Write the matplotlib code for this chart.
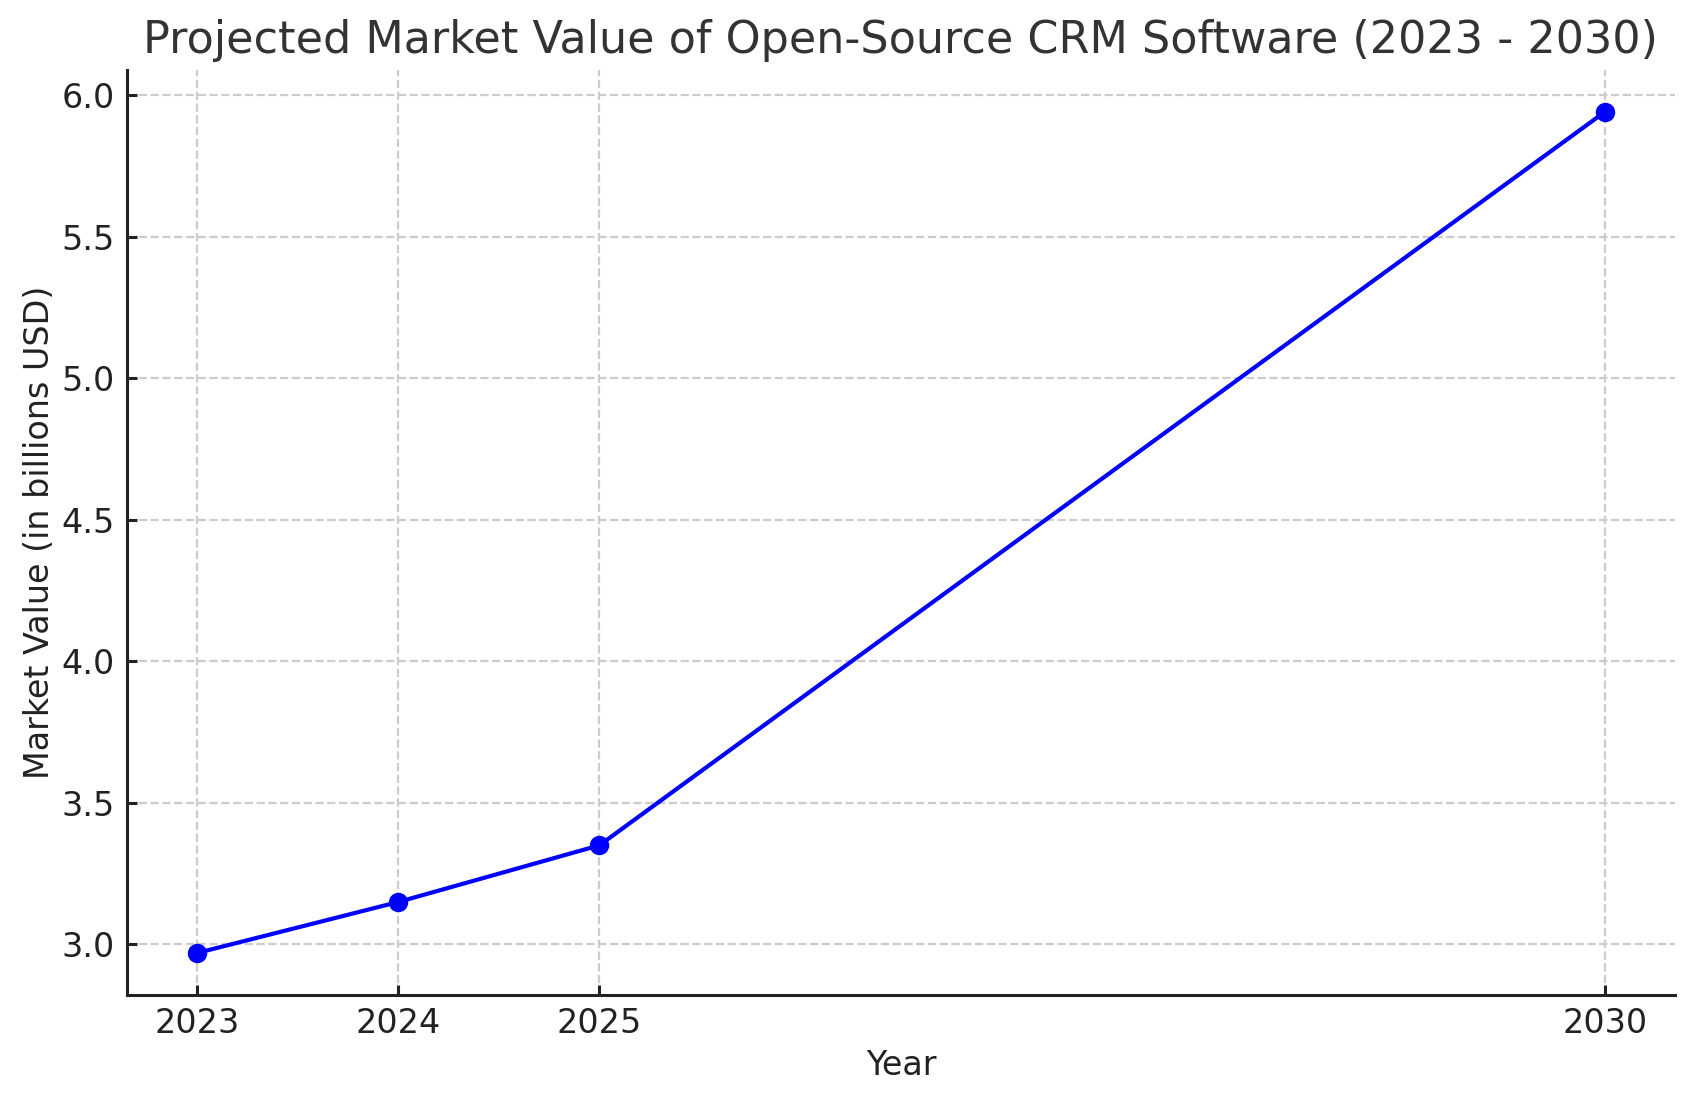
import matplotlib.pyplot as plt

years = [2023, 2024, 2025, 2030]
market_value = [2.97, 3.15, 3.35, 5.94]

plt.rcParams['font.family'] = 'DejaVu Sans'

fig, ax = plt.subplots(figsize=(8.485, 5.505), dpi=200)
fig.subplots_adjust(left=0.0748, right=0.987, top=0.9364, bottom=0.0963)

ax.plot(years, market_value, marker='o', color='blue', linewidth=1.5, markersize=6)

ax.set_title('Projected Market Value of Open-Source CRM Software (2023 - 2030)',
             fontsize=16, color='#333333')
ax.set_xlabel('Year', fontsize=12, color='#222222', labelpad=3)
ax.set_ylabel('Market Value (in billions USD)', fontsize=12, color='#222222', labelpad=2)
ax.set_xticks(years)

ax.grid(True, linestyle='--', color='#cccccc', linewidth=0.8)
ax.spines['top'].set_visible(False)
ax.spines['right'].set_visible(False)
for s in ['left', 'bottom']:
    ax.spines[s].set_color('#222222')
    ax.spines[s].set_linewidth(1.1)
ax.tick_params(direction='in', length=3.5, width=1.1, labelsize=12,
               colors='#222222', pad=4.5)

fig.savefig('out.png', dpi=200)
